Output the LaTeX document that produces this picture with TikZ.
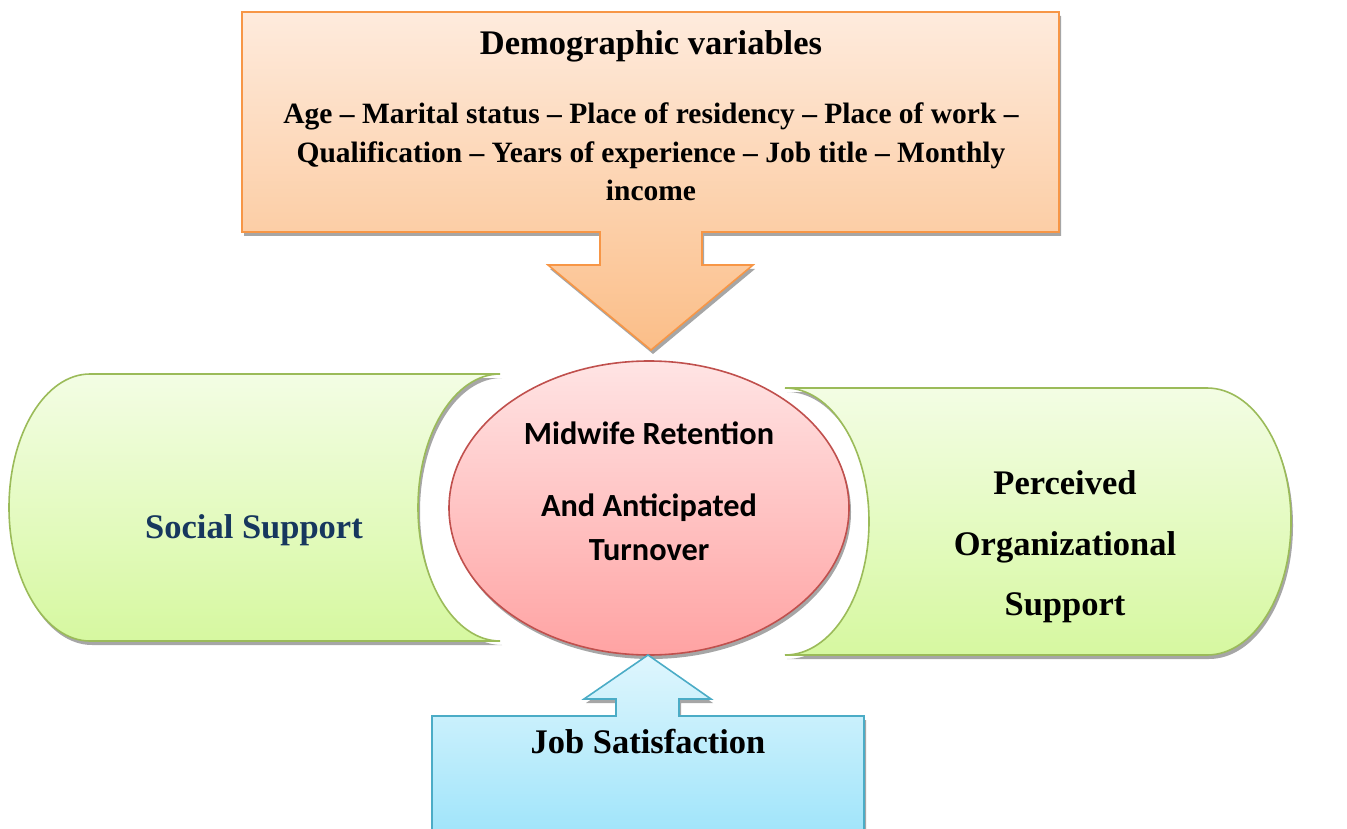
\documentclass[tikz,border=0pt]{standalone}
\usepackage{fontspec}
\setmainfont{Liberation Serif}
\newfontfamily\calfont{Carlito}
\usetikzlibrary{shapes.geometric}
\definecolor{peachline}{HTML}{F79646}
\definecolor{peachtop}{HTML}{FEEBDD}
\definecolor{peachbot}{HTML}{FBBE88}
\definecolor{greenline}{HTML}{9BBB59}
\definecolor{greentop}{HTML}{F3FDE4}
\definecolor{greenbot}{HTML}{D6F8A0}
\definecolor{redline}{HTML}{C0504D}
\definecolor{redtop}{HTML}{FFE4E4}
\definecolor{redbot}{HTML}{FFA3A3}
\definecolor{blueline}{HTML}{4BACC6}
\definecolor{bluetop}{HTML}{DFF6FD}
\definecolor{bluebot}{HTML}{9EE4FA}
\definecolor{navytext}{HTML}{17375E}
\definecolor{shadowgray}{HTML}{A6A6A6}
\tikzset{
  shadowfill/.style={fill=shadowgray, draw=none},
  headtext/.style={font=\bfseries\fontsize{34.5}{40}\selectfont, inner sep=0pt},
  listtext/.style={font=\bfseries\fontsize{29.5}{38.5}\selectfont, align=center, inner sep=0pt},
  sidetext/.style={font=\bfseries\fontsize{34.5}{60.5}\selectfont, align=center, inner sep=0pt},
  coretext/.style={font=\calfont\bfseries\fontsize{32.3}{44}\selectfont, align=center, inner sep=0pt},
}
\begin{document}
\begin{tikzpicture}[x=1pt, y=-1pt, line width=1.6pt, line join=miter]
\useasboundingbox (0,0) rectangle (1347,829);
\clip (0,0) rectangle (1347,829);

% demographic callout with its downward arrow
\def\topcallout{(242,12) -- (1059,12) -- (1059,232) -- (702,232) -- (702,265) -- (753,265) -- (651,350) -- (548,265) -- (600,265) -- (600,232) -- (242,232) -- cycle}
\fill[shadowgray, shift={(2,4)}] \topcallout;
\shade[top color=peachtop, bottom color=peachbot, draw=peachline] \topcallout;

% left band (social support)
\def\leftband{(90,374) -- (500,374) .. controls (454.7,374) and (418,433.8) .. (418,507.5) .. controls (418,581.2) and (454.7,641) .. (500,641) -- (90,641) .. controls (45.3,641) and (9,581.2) .. (9,507.5) .. controls (9,433.8) and (45.3,374) .. (90,374) -- cycle}
\fill[shadowgray, shift={(2,4)}] \leftband;
\shade[top color=greentop, bottom color=greenbot, draw=greenline] \leftband;

% right band (organizational support)
\def\rightband{(785,388) -- (1207,388) .. controls (1253.4,388) and (1291,447.8) .. (1291,521.5) .. controls (1291,595.2) and (1253.4,655) .. (1207,655) -- (785,655) .. controls (831.4,655) and (869,595.2) .. (869,521.5) .. controls (869,447.8) and (831.4,388) .. (785,388) -- cycle}
\fill[shadowgray, shift={(2,4)}] \rightband;
\shade[top color=greentop, bottom color=greenbot, draw=greenline] \rightband;

% central outcome ellipse
\fill[shadowgray] (651,512) ellipse [x radius=200, y radius=147];
\node[ellipse, minimum width=400pt, minimum height=294pt, inner sep=0pt,
      top color=redtop, bottom color=redbot, draw=redline] (core) at (649,508) {};

% job satisfaction callout with its upward arrow
\def\botcallout{(432,840) -- (432,716) -- (616,716) -- (616,699) -- (584,699) -- (648,655) -- (711,699) -- (679,699) -- (679,716) -- (864,716) -- (864,840)}
\fill[shadowgray, shift={(2,4)}] \botcallout -- cycle;
\shade[top color=bluetop, bottom color=bluebot] \botcallout -- cycle;
\draw[blueline] \botcallout;

% labels
\node[headtext] (demotitle) at (651,46) {Demographic variables};
\node[listtext] (demolist) at (651,152) {Age – Marital status – Place of residency – Place of work –\\
Qualification – Years of experience – Job title – Monthly\\ income};
\node[headtext, text=navytext] (social) at (254,530) {Social Support};
\node[sidetext] (pos) at (1065,547) {Perceived\\ Organizational\\ Support};
\node[coretext] (coretxt) at (649,491) {Midwife Retention\\[28pt] And Anticipated\\ Turnover};
\node[headtext] (jobsat) at (648,742) {Job Satisfaction};
\end{tikzpicture}
\end{document}
